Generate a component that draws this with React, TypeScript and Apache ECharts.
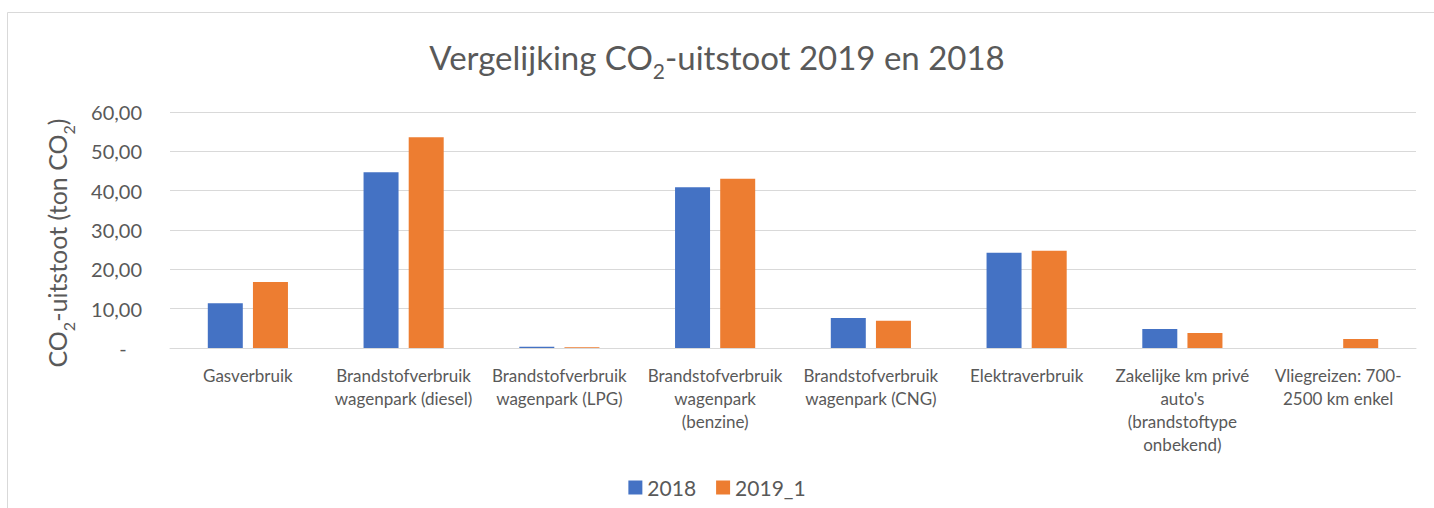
import React, { useEffect, useRef } from "react";
import * as echarts from "echarts";

const categories = [
  "Gasverbruik",
  "Brandstofverbruik\nwagenpark (diesel)",
  "Brandstofverbruik\nwagenpark (LPG)",
  "Brandstofverbruik\nwagenpark\n(benzine)",
  "Brandstofverbruik\nwagenpark (CNG)",
  "Elektraverbruik",
  "Zakelijke km privé\nauto's\n(brandstoftype\nonbekend)",
  "Vliegreizen: 700-\n2500 km enkel",
];
const values2018 = [11.4, 44.7, 0.3, 40.9, 7.6, 24.2, 4.8, 0];
const values2019 = [16.8, 53.6, 0.2, 43.0, 6.9, 24.7, 3.8, 2.3];
const seriesNames = ["2018", "2019_1"];
const yTicks = { min: 0, max: 60, interval: 10 };

const FONT = "Lato, 'Open Sans', sans-serif";
const GREY = "#595959";

export default function App() {
  const ref = useRef<HTMLDivElement>(null);
  useEffect(() => {
    const chart = echarts.init(ref.current!, null, { renderer: "svg" });
    chart.setOption({
      animation: false,
      textStyle: { fontFamily: FONT, color: GREY },
      graphic: [
        {
          type: "rect",
          shape: { x: 7.5, y: 12.5, width: 1440, height: 520 },
          style: { fill: "none", stroke: "#d9d9d9", lineWidth: 1 },
          silent: true,
        },
        {
          type: "text",
          x: 57,
          y: 243,
          rotation: Math.PI / 2,
          silent: true,
          style: {
            text: "{a|CO}{s|2}{a|-uitstoot (ton CO}{s|2}{a|)}",
            align: "center",
            verticalAlign: "middle",
            rich: {
              a: { fontFamily: FONT, fontSize: 25, fill: GREY, lineHeight: 38 },
              s: { fontFamily: FONT, fontSize: 16, fill: GREY, lineHeight: 10, verticalAlign: "bottom" },
            },
          },
        },
      ],
      title: {
        text: "{a|Vergelijking CO}{s|2}{a|-uitstoot 2019 en 2018}",
        left: "center",
        top: 28,
        textStyle: {
          fontWeight: "normal",
          rich: {
            a: { fontFamily: FONT, fontSize: 33, fontWeight: "normal", color: GREY, lineHeight: 48 },
            s: { fontFamily: FONT, fontSize: 21, fontWeight: "normal", color: GREY, lineHeight: 10, verticalAlign: "bottom" },
          },
        },
      },
      legend: {
        bottom: 5,
        left: "center",
        itemWidth: 14,
        itemHeight: 14,
        itemGap: 20,
        icon: "rect",
        textStyle: { fontFamily: FONT, fontSize: 21, color: GREY },
      },
      grid: { left: 170, right: 18, top: 112, bottom: 160, containLabel: false },
      xAxis: {
        type: "category",
        data: categories,
        axisLine: { lineStyle: { color: "#d9d9d9", width: 1 } },
        axisTick: { show: false },
        axisLabel: {
          interval: 0,
          fontFamily: FONT,
          fontSize: 17,
          lineHeight: 23,
          color: GREY,
          margin: 16,
        },
      },
      yAxis: {
        type: "value",
        min: yTicks.min,
        max: yTicks.max,
        interval: yTicks.interval,
        axisLine: { show: false },
        axisTick: { show: false },
        splitLine: { lineStyle: { color: "#d9d9d9", width: 1 } },
        axisLabel: {
          fontFamily: FONT,
          fontSize: 20,
          color: GREY,
          margin: 28,
          formatter: (v: number) => (v === 0 ? "-   " : v.toFixed(2).replace(".", ",")),
        },
      },
      series: [
        {
          name: seriesNames[0],
          type: "bar",
          data: values2018,
          barWidth: 35,
          barGap: "29%",
          itemStyle: { color: "#4472c4" },
        },
        {
          name: seriesNames[1],
          type: "bar",
          data: values2019,
          barWidth: 35,
          barGap: "29%",
          itemStyle: { color: "#ed7d31" },
        },
      ],
    });
    return () => chart.dispose();
  }, []);
  return (
    <div
      ref={ref}
      style={{ position: "fixed", left: 0, top: 0, width: 1434, height: 508, background: "#fff" }}
    />
  );
}
